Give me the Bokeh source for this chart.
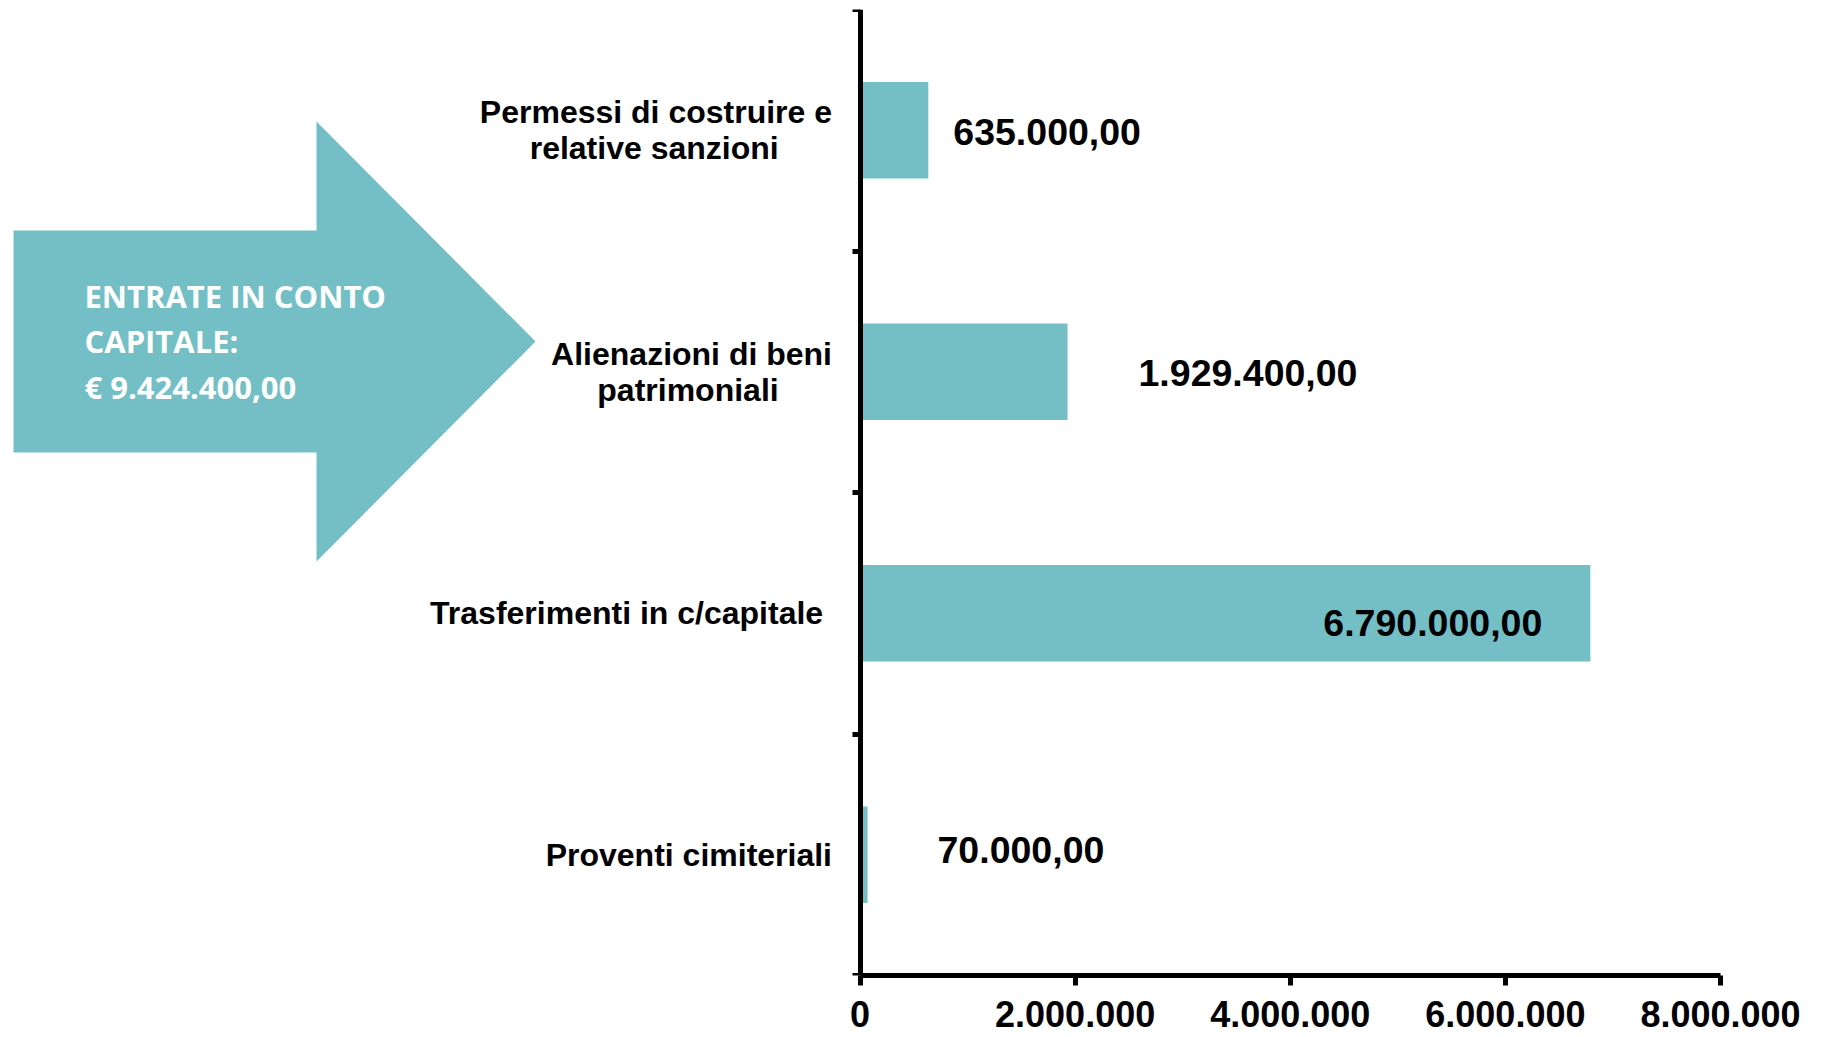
from bokeh.plotting import figure
from bokeh.models import (Range1d, FixedTicker, ColumnDataSource, LabelSet, Label)
from bokeh.core.properties import value
from bokeh.embed import file_html
from bokeh.resources import INLINE

# ---------------- data ----------------
categories = [
    "Permessi di costruire e\nrelative sanzioni",
    "Alienazioni di beni\npatrimoniali",
    "Trasferimenti in c/capitale ",
    "Proventi cimiteriali",
]
values = [635000, 1929400, 6790000, 70000]
x_ticks = [0, 2000000, 4000000, 6000000, 8000000]
x_tick_labels = ["0", "2.000.000", "4.000.000", "6.000.000", "8.000.000"]
headline = "ENTRATE IN CONTO\nCAPITALE:"

# ---------------- layout / style (not data) ----------------
W, H = 1821, 1037
FRAME_TOP, FRAME_BOTTOM = 9, 975
FRAME_RIGHT = 1720          # pixel of the last x tick
AXIS_PX = 859.5             # pixel where the value axis starts (x = 0)
label_dx = [25, 71, -267, 70]     # px offsets of value labels from bar end
label_dy = [-2, -1, -10, 5]       # px offsets of value labels (up positive)
second_line_pad = [6, 6, 0, 0]    # nbsp padding so wrapped lines look centred
TEAL = "#73BFC5"
# decorative arrow outline, in canvas pixels
ARROW_PX = [13, 316, 316, 535, 316, 316, 13]
ARROW_PY = [230, 230, 121, 341, 561, 452, 452]


def it_fmt(v):
    s = f"{v:,.2f}"
    return s.replace(",", "X").replace(".", ",").replace("X", ".")


n = len(categories)
x_end = x_ticks[-1]
x_start = -x_end * AXIS_PX / (FRAME_RIGHT - AXIS_PX)


def px_to_x(px):
    return x_start + px * (x_end - x_start) / FRAME_RIGHT


def py_to_y(py):
    return n - (py - FRAME_TOP) * n / (FRAME_BOTTOM - FRAME_TOP)


ys = [n - i - 0.5 for i in range(n)]
src = ColumnDataSource(dict(
    y=ys, v=values, label=[it_fmt(v) for v in values],
    dx=label_dx, dy=label_dy,
))

p = figure(width=W, height=H, output_backend="svg", toolbar_location=None,
           x_range=Range1d(x_start, x_end), y_range=Range1d(0, n),
           min_border_left=0, min_border_right=W - FRAME_RIGHT,
           min_border_top=FRAME_TOP, min_border_bottom=H - FRAME_BOTTOM)
p.outline_line_color = None
p.xgrid.visible = False
p.ygrid.visible = False
p.background_fill_color = "white"
p.border_fill_color = "white"

# arrow (decoration)
p.patch([px_to_x(v) for v in ARROW_PX], [py_to_y(v) for v in ARROW_PY],
        fill_color=TEAL, line_color=None)
total_text = headline + "\n€ " + it_fmt(sum(values))
p.add_layout(Label(x=px_to_x(84), y=py_to_y(341), text=total_text,
                   text_color="white", text_font="Open Sans",
                   text_font_style="bold", text_font_size="31px",
                   text_line_height=1.08, text_baseline="middle",
                   text_align="left"))

p.hbar(y="y", left=0, right="v", height=0.4, source=src,
       fill_color=TEAL, line_color=None)

p.add_layout(LabelSet(x="v", y="y", text="label", x_offset="dx", y_offset="dy",
                      source=src, text_font=value("Liberation Sans"),
                      text_font_style="bold", text_font_size="37.5px",
                      text_color="black", text_baseline="middle",
                      text_align="left"))


def padded(c, k):
    return c + "\u00a0" * k if "\n" in c else c


# y axis fixed at x = 0: labels at band centres, ticks at band boundaries
ya = p.yaxis[0]
ya.fixed_location = 0
ya.ticker = FixedTicker(ticks=ys, minor_ticks=list(range(n + 1)))
ya.major_label_overrides = {y: padded(c, k) for y, c, k in zip(ys, categories, second_line_pad)}
ya.axis_line_width = 5
ya.axis_line_color = "black"
ya.major_tick_line_color = None
ya.major_tick_out = 8
ya.major_tick_in = 0
ya.minor_tick_in = 0
ya.minor_tick_out = 8
ya.minor_tick_line_width = 5
ya.minor_tick_line_color = "black"
ya.major_label_standoff = 20
ya.major_label_text_font = "Liberation Sans"
ya.major_label_text_font_style = "bold"
ya.major_label_text_font_size = "32px"
ya.major_label_text_color = "black"
ya.major_label_text_line_height = 1.0

xa = p.xaxis[0]
xa.bounds = (0, x_end)
xa.ticker = FixedTicker(ticks=x_ticks, minor_ticks=[])
xa.major_label_overrides = {t: l for t, l in zip(x_ticks, x_tick_labels)}
xa.axis_line_width = 5
xa.axis_line_color = "black"
xa.major_tick_line_width = 5
xa.major_tick_line_color = "black"
xa.major_tick_in = 0
xa.major_tick_out = 10
xa.minor_tick_line_color = None
xa.major_label_standoff = 15
xa.major_label_text_font = "Liberation Sans"
xa.major_label_text_font_style = "bold"
xa.major_label_text_font_size = "36px"
xa.major_label_text_color = "black"

open("out.html", "w").write(file_html(p, INLINE))
